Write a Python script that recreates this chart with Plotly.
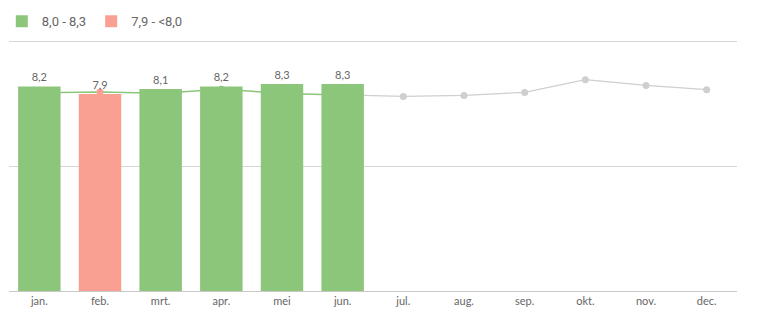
import plotly.graph_objects as go

months = ["jan.", "feb.", "mrt.", "apr.", "mei", "jun.", "jul.", "aug.", "sep.", "okt.", "nov.", "dec."]
bar_months = ["jan.", "feb.", "mrt.", "apr.", "mei", "jun."]
bar_values = [8.2, 7.9, 8.1, 8.2, 8.3, 8.3]
bar_groups = ["8,0 - 8,3", "7,9 - <8,0", "8,0 - 8,3", "8,0 - 8,3", "8,0 - 8,3", "8,0 - 8,3"]
line_values = [7.95, 7.98, 7.93, 8.09, 7.92, 7.86, 7.80, 7.84, 7.96, 8.47, 8.24, 8.07]

GREEN = "#8cc67a"
PINK = "#f9a093"
GREY_LINE = "#cfcfcf"
TXT = "#666666"

group_colors = {"8,0 - 8,3": GREEN, "7,9 - <8,0": PINK}

fig = go.Figure()

# line (actual months portion, green) - under the bars
fig.add_trace(go.Scatter(
    x=bar_months, y=line_values[:6], mode="lines+markers",
    line=dict(color=GREEN, width=1.5),
    marker=dict(size=7, color=[group_colors[g] for g in bar_groups]),
    showlegend=False, hoverinfo="skip", xaxis="x", yaxis="y"))
# line (rest, grey)
fig.add_trace(go.Scatter(
    x=months[5:], y=line_values[5:], mode="lines+markers",
    line=dict(color=GREY_LINE, width=1.2),
    marker=dict(size=7, color=GREY_LINE),
    showlegend=False, hoverinfo="skip", xaxis="x", yaxis="y"))

for name, color in group_colors.items():
    ys = [v if g == name else None for v, g in zip(bar_values, bar_groups)]
    fig.add_trace(go.Bar(
        x=bar_months, y=ys, name=name, marker=dict(color=color, line=dict(width=0)),
        width=0.7, texttemplate="%{y:.1f}", textposition="outside",
        textfont=dict(color=TXT, size=11, family="Lato"), cliponaxis=False,
        xaxis="x2", yaxis="y2"))

YMAX = 10.1

fig.update_layout(
    width=768, height=321,
    margin=dict(l=9, r=31, t=39, b=30, autoexpand=False),
    paper_bgcolor="white", plot_bgcolor="white",
    separators=",.",
    barmode="overlay",
    font=dict(family="Lato", color=TXT),
    showlegend=True,
    legend=dict(orientation="h", x=-0.0099, xanchor="left", y=1.07, yanchor="middle",
                font=dict(size=13, color=TXT, family="Roboto"), itemwidth=30,
                traceorder="normal"),
    xaxis=dict(type="category", categoryorder="array", categoryarray=months,
               range=[-0.5, 11.5], showgrid=False, showline=True, linecolor="#c8c8c8",
               linewidth=1, ticks="", tickfont=dict(size=11, color=TXT, family="Lato"),
               fixedrange=True),
    xaxis2=dict(type="category", categoryorder="array", categoryarray=months,
                range=[-0.5, 11.5], overlaying="x", visible=False, anchor="y2"),
    yaxis=dict(range=[0, YMAX], tickvals=[0, 5, 10], showticklabels=False,
               gridcolor="#d6d6d6", gridwidth=1, zeroline=False, showline=False),
    yaxis2=dict(range=[0, YMAX], overlaying="y", visible=False, anchor="x2"),
)

fig.write_html("out.html")
